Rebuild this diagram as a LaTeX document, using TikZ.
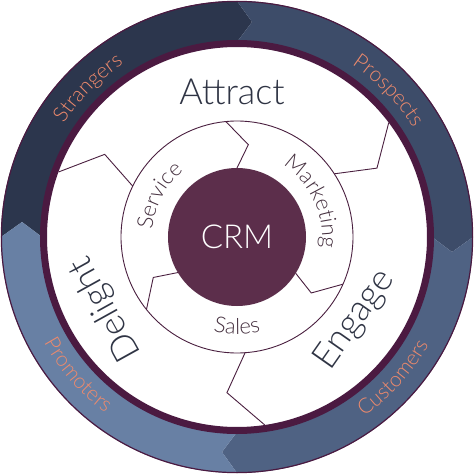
\documentclass[tikz,border=0pt]{standalone}
\usepackage{fontspec}
\IfFontExistsTF{Lato Light}{\setmainfont{Lato Light}}{\setmainfont{TeX Gyre Heros}}
\usetikzlibrary{decorations.text}
\definecolor{ringplum}{HTML}{4B1A41}
\definecolor{lineplum}{HTML}{4A2040}
\definecolor{crmfill}{HTML}{5C2E4B}
\definecolor{bigink}{HTML}{2F3444}
\definecolor{ringink}{HTML}{45303F}
\definecolor{labelorange}{HTML}{EE8A6C}
\definecolor{segA}{HTML}{2C364D}
\definecolor{segB}{HTML}{3D4C69}
\definecolor{segC}{HTML}{4F6283}
\definecolor{segD}{HTML}{6880A4}
\newcommand\outerfont{\fontsize{21}{21}\selectfont}
\newcommand\ringfont{\fontsize{22}{22}\selectfont}
\newcommand\bandsegment[2]{%
  \fill[#2] (#1:236pt) arc[start angle=#1, end angle={#1-90}, radius=236pt]
    -- ({#1-94}:215.5pt) -- ({#1-90}:195pt)
    arc[start angle={#1-90}, end angle=#1, radius=195pt]
    -- ({#1-4}:215.5pt) -- cycle;}
\begin{document}
\begin{tikzpicture}[x=1pt,y=1pt,
  divider/.style={draw=lineplum, line width=0.9pt, line join=miter},
  bigword/.style={text=bigink, font=\fontsize{36}{36}\selectfont, inner sep=0pt}]
\useasboundingbox (-237,-237) rectangle (237,237);
\fill[white] (-237,-237) rectangle (237,237);
% outer band
\bandsegment{180}{segA}
\bandsegment{90}{segB}
\bandsegment{0}{segC}
\bandsegment{270}{segD}
\draw[ringplum, line width=1.2pt] (0,0) circle[radius=235.6pt];
\draw[ringplum, line width=7pt] (0,0) circle[radius=193.5pt];
% dividers outer zone
\draw[divider] (160:190pt) -- (148:156pt) -- (154:116pt);
\draw[divider] (37:190pt) -- (26.2:156pt) -- (33:116pt);
\draw[divider] (278.4:190pt) -- (266.3:156pt) -- (274:116pt);
\draw[divider] (0,0) circle[radius=116pt];
% dividers inner zone
\draw[divider] (95.5:116pt) -- (83:93pt) -- (90:69pt);
\draw[divider] (336:116pt) -- (323:93pt) -- (328.3:69pt);
\draw[divider] (218.7:116pt) -- (205.8:93pt) -- (211:69pt);
% centre
\node[circle, fill=crmfill, minimum size=138pt, inner sep=0pt, text=white,
  font=\fontsize{33}{33}\selectfont] (crm) at (0,0) {CRM};
% stage words
\node[bigword] (attract) at (-5,145) {Attract};
\node[bigword, rotate=55] (engage) at (118,-83) {Engage};
\node[bigword, rotate=119] (delight) at (-131,-72) {Delight};
% outer band labels
\path[decorate, decoration={text along path, text align=center, text color=labelorange,
  text={|\outerfont|Strangers}}] (175:207pt) arc[start angle=175, end angle=95, radius=207pt];
\path[decorate, decoration={text along path, text align=center, text color=labelorange,
  text={|\outerfont|Prospects}}] (84:207pt) arc[start angle=84, end angle=4, radius=207pt];
\path[decorate, decoration={text along path, text align=center, text color=labelorange,
  text={|\outerfont|Customers}}] (-82:220pt) arc[start angle=-82, end angle=-2, radius=220pt];
\path[decorate, decoration={text along path, text align=center, text color=labelorange,
  text={|\outerfont|Promoters}}] (181:220pt) arc[start angle=181, end angle=261, radius=220pt];
% inner ring labels
\path[decorate, decoration={text along path, text align=center, text color=ringink,
  text={|\ringfont|Service}}] (192:85pt) arc[start angle=192, end angle=112, radius=85pt];
\path[decorate, decoration={text along path, text align=center, text color=ringink,
  text={|\ringfont|Marketing}}] (70:85pt) arc[start angle=70, end angle=-20, radius=85pt];
\path[decorate, decoration={text along path, text align=center, text color=ringink,
  text={|\ringfont|Sales}}] (230:97pt) arc[start angle=230, end angle=310, radius=97pt];
\end{tikzpicture}
\end{document}
